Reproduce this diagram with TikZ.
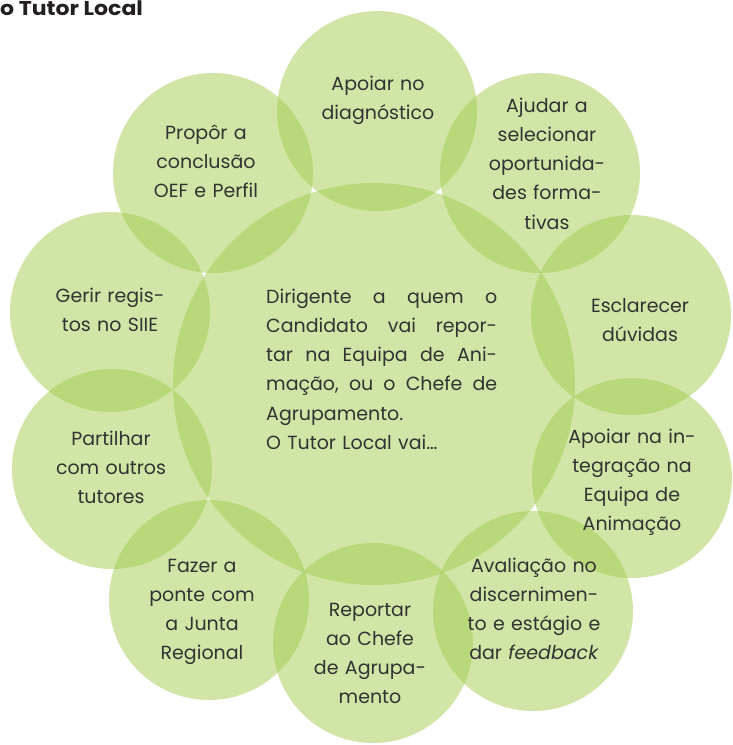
\documentclass[tikz,border=0pt]{standalone}
\usepackage{fontspec}
\setmainfont{Poppins}
\newfontfamily\headfont[FakeStretch=1.1]{Poppins}
\definecolor{leaf}{RGB}{161,203,77}
\definecolor{ink}{RGB}{51,51,51}
\definecolor{heading}{RGB}{35,31,32}
\newlength{\hubwidth}
\setlength{\hubwidth}{231pt}
% one justified line of the central text: words separated by \hfill
\newcommand{\fullline}[1]{\makebox[\hubwidth][l]{#1}}
\begin{document}
\begin{tikzpicture}[x=1pt,y=-1pt,
  disc/.style={circle,fill=leaf,fill opacity=0.5,draw=none,inner sep=0pt,minimum size=#1},
  disc/.default=200pt,
  circletext/.style={text=ink,font=\fontsize{19}{29.3}\selectfont,align=center,
    text width=170pt,anchor=base,inner sep=0pt},
  hubtext/.style={text=ink,font=\fontsize{19}{29.3}\selectfont,align=left,
    text width=\hubwidth,anchor=base west,inner sep=0pt}]
\useasboundingbox (0,0) rectangle (732,745);

% central disc and the ring of ten discs
\node[disc=402pt] (hub) at (374,384) {};
\node[disc] (c1) at (377,111) {};
\node[disc] (c2) at (540,173) {};
\node[disc] (c3) at (631,315) {};
\node[disc] (c4) at (632,478) {};
\node[disc] (c5) at (533,611) {};
\node[disc] (c6) at (373,643) {};
\node[disc] (c7) at (209,600) {};
\node[disc] (c8) at (112,469) {};
\node[disc] (c9) at (110,312) {};
\node[disc] (c10) at (213,173) {};

% heading
\node[anchor=base west,inner sep=0pt,text=heading,font=\headfont\bfseries\fontsize{20}{20}\selectfont]
  (title) at (0,15) {o Tutor Local};

% central text, justified by hand
\node[hubtext] (hubtxt) at (266,303) {%
  \fullline{Dirigente\hfill a\hfill quem\hfill o}\\
  \fullline{Candidato\hfill vai\hfill repor-}\\
  \fullline{tar\hfill na\hfill Equipa\hfill de\hfill Ani-}\\
  \fullline{mação,\hfill ou\hfill o\hfill Chefe\hfill de}\\
  Agrupamento.\\
  O Tutor Local vai…};

% texts of the ring
\node[circletext] (t1) at (378,90) {Apoiar no\\diagnóstico};
\node[circletext] (t2) at (547,112) {Ajudar a\\selecionar\\oportunida-\\des forma-\\tivas};
\node[circletext] (t3) at (640,312) {Esclarecer\\dúvidas};
\node[circletext] (t4) at (632,443) {Apoiar na in-\\tegração na\\Equipa de\\Animação};
\node[circletext] (t5) at (534,572) {Avaliação no\\discernimen-\\to e estágio e\\dar \emph{feedback}};
\node[circletext] (t6) at (370,616) {Reportar\\ao Chefe\\de Agrupa-\\mento};
\node[circletext] (t7) at (202,572) {Fazer a\\ponte com\\a Junta\\Regional};
\node[circletext] (t8) at (111,445) {Partilhar\\com outros\\tutores};
\node[circletext] (t9) at (110,302) {Gerir regis-\\tos no SIIE};
\node[circletext] (t10) at (206,139) {Propôr a\\conclusão\\OEF e Perfil};
\end{tikzpicture}
\end{document}
